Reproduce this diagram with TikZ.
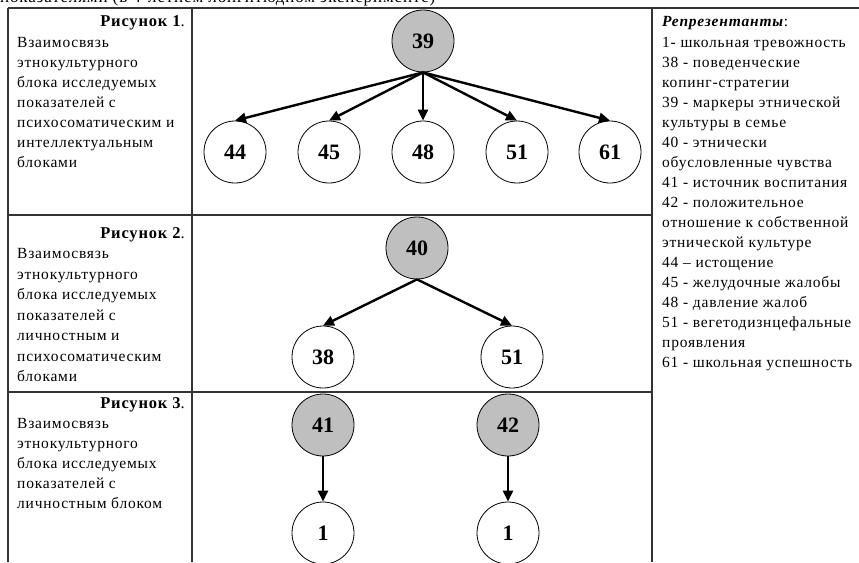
\documentclass[tikz,border=0pt]{standalone}
\usepackage{fontspec}
\setmainfont{Liberation Serif}
\newfontfamily\spacedfont{Liberation Serif}[LetterSpace=5]
\usetikzlibrary{arrows.meta}
\begin{document}
\begin{tikzpicture}[x=1pt,y=-1pt,
  txt/.style={anchor=base west,inner sep=0pt,font=\fontsize{15.5}{20}\spacedfont},
  ttl/.style={anchor=base east,inner sep=0pt,font=\fontsize{16.5}{20}\spacedfont},
  nd/.style={circle,draw=black,line width=0.8pt,minimum size=62pt,inner sep=0pt,font=\fontsize{22}{22}\selectfont\bfseries},
  hub/.style={nd,fill=black!25},
  leaf/.style={nd,fill=white},
  arr/.style={line width=2.4pt,-{Triangle[length=11pt,width=10pt]}},
  rule/.style={line width=1.3pt,draw=black!80}]
\useasboundingbox (0,0) rectangle (859,562);
\fill[white] (0,0) rectangle (859,562);
% top cut-off line
\node[txt,font=\fontsize{17}{20}\spacedfont] (toptext) at (0,2) {показателями (в 4-летнем лонгитюдном эксперименте)};
% table rules
\draw[rule] (8,8) -- (859,8);
\draw[rule] (8,8) -- (8,562);
\draw[rule] (192,8) -- (192,562);
\draw[rule] (652,8) -- (652,562);
\draw[rule] (8,215) -- (652,215);
\draw[rule] (8,392) -- (652,392);
% left column texts
\node[ttl] (t1) at (185,27) {\textbf{Рисунок 1}.};
\foreach \s [count=\i] in {Взаимосвязь,этнокультурного,блока исследуемых,показателей с,психосоматическим и,интеллектуальным,блоками}
  \node[txt] (a\i) at (17,27+20*\i) {\s};
\node[ttl] (t2) at (185,238) {\textbf{Рисунок 2}.};
\foreach \s [count=\i] in {Взаимосвязь,этнокультурного,блока исследуемых,показателей с,личностным и,психосоматическим,блоками}
  \node[txt] (b\i) at (17,238+20.5*\i) {\s};
\node[ttl] (t3) at (185,408) {\textbf{Рисунок 3}.};
\foreach \s [count=\i] in {Взаимосвязь,этнокультурного,блока исследуемых,показателей с,личностным блоком}
  \node[txt] (c\i) at (17,408+20*\i) {\s};
% right column
\node[txt] (rh) at (662,27) {\textbf{\textit{Репрезентанты}}:};
\foreach \s [count=\i] in {1- школьная тревожность,38 - поведенческие,копинг-стратегии,39 - маркеры этнической,культуры в семье,40 - этнически,обусловленные чувства,41 - источник воспитания,42 - положительное,отношение к собственной,этнической культуре,44 – истощение,45 - желудочные жалобы,48 - давление жалоб,51 - вегетодизнцефальные,проявления,61 - школьная успешность}
  \node[txt] (r\i) at (662,27+20*\i) {\s};
% figure 1
\node[hub] (n39) at (423,41) {39};
\node[leaf] (n44) at (235,152) {44};
\node[leaf] (n45) at (329,152) {45};
\node[leaf] (n48) at (423,152) {48};
\node[leaf] (n51a) at (517,152) {51};
\node[leaf] (n61) at (610,152) {61};
\foreach \c in {n44,n45,n48,n51a,n61}
  \draw[arr] (n39.south) -- (\c.north);
% figure 2
\node[hub] (n40) at (417,248) {40};
\node[leaf] (n38) at (323,357) {38};
\node[leaf] (n51b) at (512,357) {51};
\draw[arr] (n40.south) -- (n38.north);
\draw[arr] (n40.south) -- (n51b.north);
% figure 3
\node[hub] (n41) at (323,425) {41};
\node[hub] (n42) at (508,425) {42};
\node[leaf] (n1a) at (323,533) {1};
\node[leaf] (n1b) at (508,533) {1};
\draw[arr] (n41.south) -- (n1a.north);
\draw[arr] (n42.south) -- (n1b.north);
\end{tikzpicture}
\end{document}
